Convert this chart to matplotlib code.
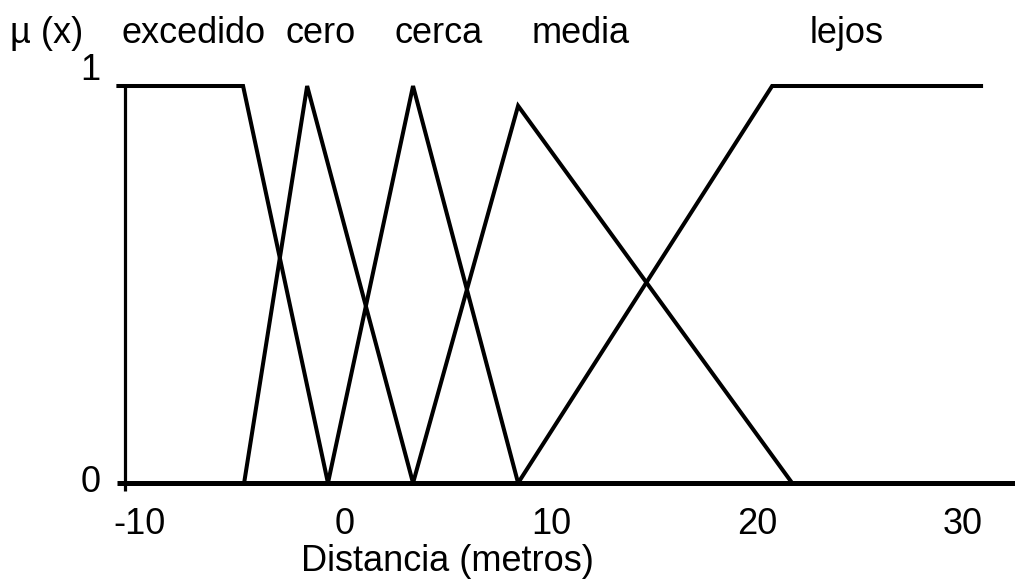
import matplotlib.pyplot as plt

# membership functions, x in metres, y = degree of membership
excedido_x = [-11.1, -4.95, -0.83]
excedido_y = [1, 1, 0]
cero_x = [-4.9, -1.84, 3.3]
cero_y = [0, 1, 0]
cerca_x = [-0.83, 3.3, 8.4]
cerca_y = [0, 1, 0]
media_x = [3.3, 8.4, 21.7]
media_y = [0, 0.95, 0]
lejos_x = [8.4, 20.73, 30.97]
lejos_y = [0, 1, 1]

set_names = ["excedido", "cero", "cerca", "media", "lejos"]
x_ticks = [-10, 0, 10, 20, 30]
y_labels = ["0", "1"]
x_label = "Distancia (metros)"
y_title = "\u00b5 (x)"

plt.rcParams['font.family'] = ['Liberation Sans', 'DejaVu Sans']
FS = 26

fig = plt.figure(figsize=(10.15, 5.81), dpi=100)
# axes box: left edge at the start of the base line, bottom on y = 0
ax = fig.add_axes([117 / 1015, 98 / 581, 898 / 1015, 423 / 581])
ax.set_xlim(-11.07, 32.52)
ax.set_ylim(0, 1.0655)

for s in ["top", "right", "left"]:
    ax.spines[s].set_visible(False)
ax.spines["bottom"].set_linewidth(3.6)
ax.spines["bottom"].set_capstyle("butt")

ax.set_yticks([])
ax.set_xticks(x_ticks)
ax.set_xticklabels([str(t) for t in x_ticks], fontsize=FS)
ax.tick_params(axis="x", length=0, pad=17)
ax.set_xlabel(x_label, fontsize=FS, labelpad=2, x=0.3675)

# vertical axis line
ax.plot([-10.68, -10.68], [-0.02, 1], color="black", lw=2.3, clip_on=False,
        solid_capstyle="butt")

line_kw = dict(color="black", lw=2.9, clip_on=False,
               solid_joinstyle="miter", solid_capstyle="butt")
ax.plot(excedido_x, excedido_y, **line_kw)
ax.plot(cero_x, cero_y, **line_kw)
ax.plot(cerca_x, cerca_y, **line_kw)
ax.plot(media_x, media_y, **line_kw)
ax.plot(lejos_x, lejos_y, **line_kw)

# y values written by hand at the left
ax.text(-12.35, 0, y_labels[0], fontsize=FS, ha="center", va="center")
ax.text(-12.35, 1.04, y_labels[1], fontsize=FS, ha="center", va="center")

# set names along the top
label_y = 1.108
ax.text(-14.47, label_y, y_title, fontsize=FS, ha="center", va="baseline")
for name, xc in zip(set_names, [-7.33, -1.21, 4.56, 11.46, 24.37]):
    ax.text(xc, label_y, name, fontsize=FS, ha="center", va="baseline")

fig.savefig("out.png", dpi=100)
